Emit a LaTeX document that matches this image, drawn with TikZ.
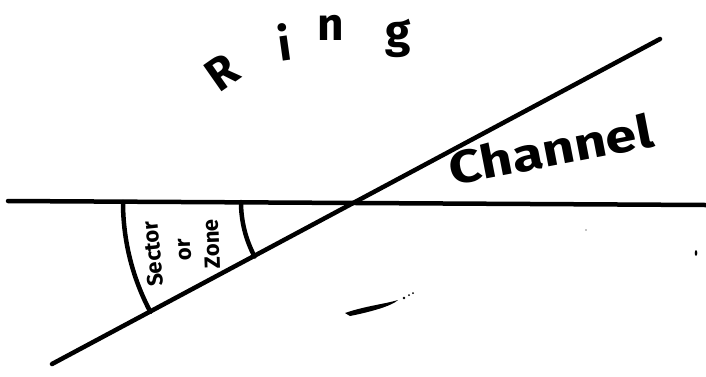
\documentclass[tikz,border=0pt]{standalone}
\usepackage{fontspec}
\setmainfont{Fira Sans}
\begin{document}
\begin{tikzpicture}[x=1pt,y=-1pt, line cap=round, line join=round,
  ink/.style={line width=4.5pt},
  hand/.style={font=\fontsize{46}{46}\selectfont\bfseries, inner sep=0pt},
  small/.style={font=\fontsize{22}{22}\selectfont\bfseries, inner sep=0pt}]
\useasboundingbox (0,0) rectangle (706,376);
\coordinate (hl) at (8,201);
\coordinate (hr) at (706,205);
\coordinate (dl) at (52,364);
\coordinate (dr) at (660,39);
\coordinate (o) at (357,202);
\draw[ink] (hl) -- (hr);
\draw[ink] (dl) -- (dr);
% sector arcs centred at the crossing
\draw[ink] ([shift={(180:234)}]o) arc[start angle=180, end angle=152, radius=234];
\draw[ink] ([shift={(180:116)}]o) arc[start angle=180, end angle=152, radius=116];
% sector labels
\node[small, rotate=96] (sec) at (153,254) {Sector};
\node[small, rotate=92] (or) at (185,250) {or};
\node[small, rotate=92] (zone) at (212,244) {Zone};
% Ring
\node[hand, rotate=35] (r) at (222,72) {R};
\node[hand, rotate=8] (i) at (284,42) {i};
\node[hand] (n) at (331,28) {n};
\node[hand] (g) at (398,38) {g};
% Channel
\node[hand, anchor=base west, rotate=11, xscale=1.22] (ch) at (452,186) {Channel};
% stray marks
\fill (345,313) .. controls (365,306) and (385,304) .. (398,300)
      .. controls (392,306) and (370,312) .. (350,316) -- cycle;
\fill (404,298) circle[radius=1.3];
\fill (409,295) circle[radius=1];
\fill (413,293) circle[radius=1];
\fill (696,253) ellipse[x radius=1.3, y radius=2.8];
\fill (586,230) circle[radius=0.6];
\end{tikzpicture}
\end{document}
